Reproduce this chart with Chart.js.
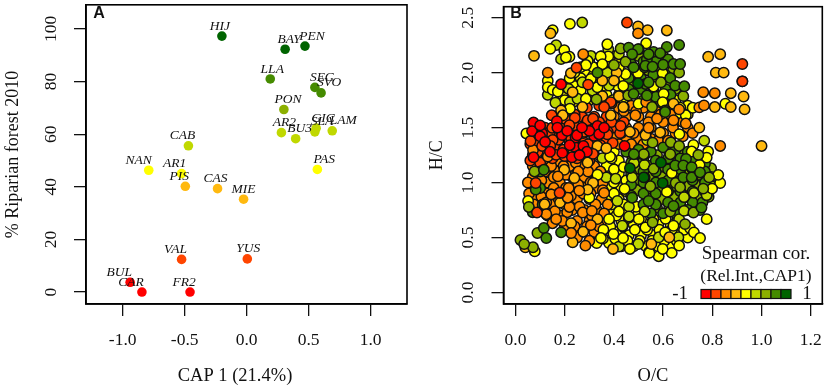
<!DOCTYPE html>
<html>
<head>
<meta charset="utf-8">
<script src="https://cdn.jsdelivr.net/npm/chart.js@4"></script>
<style>
html, body { margin: 0; padding: 0; background: #fff; }
#wrap { position: relative; width: 829px; height: 390px; overflow: hidden; }
canvas { position: absolute; top: 0; }
</style>
</head>
<body>
<div id="wrap">
<canvas id="chartA" width="415" height="390" style="left:0"></canvas>
<canvas id="chartB" width="414" height="390" style="left:415px"></canvas>
</div>
<script>
// colour ramp, low to high correlation
const rampColors = ['#ff0000', '#ff4500', '#ff8c00', '#ffb90f', '#ffff00', '#c0d800', '#8cb000', '#458b00', '#006400'];

// panel A
const sites = ['HIJ','BAY','PEN','LLA','SEC','SVO','PON','AR2','BU3','SLA','GIC','LAM','CAB','NAN','AR1','PIS','CAS','MIE','PAS','VAL','YUS','BUL','CAR','FR2'];
const cap1 = [-0.20,0.31,0.47,0.19,0.55,0.60,0.30,0.28,0.395,0.55,0.56,0.69,-0.47,-0.79,-0.525,-0.495,-0.235,-0.025,0.57,-0.525,0.005,-0.94,-0.845,-0.457];
const riparian = [97.3,92.3,93.5,81.0,77.8,75.7,69.4,60.6,58.3,60.9,62.3,61.3,55.6,46.3,45.0,40.2,39.3,35.3,46.6,12.4,12.6,3.7,0,0];
const siteClass = [8,8,8,7,7,7,6,5,5,5,5,5,5,4,4,3,3,3,4,1,1,0,0,0];
const siteLabelShift = [-2,4,7,2,7,8,4,3,4,7,7,11,-6,-10,-7,-6,-2,0,7,-6,1,-11,-11,-6];

// panel B, points partly hidden under the rest of the cloud
const underRedOrange = [[.08,1.45],[.12,1.5],[.17,1.52],[.22,1.55],[.27,1.6],[.32,1.6],[.37,1.6],[.06,1.35],[.1,1.4],[.15,1.42],[.2,1.45],[.25,1.48],[.3,1.5],[.35,1.5],[.4,1.5],[.07,1.25],[.12,1.3],[.17,1.33],[.22,1.37],[.27,1.4],[.32,1.4],[.37,1.4],[.29,1.68],[.34,1.7],[.39,1.72],
    [.1,1.48],[.14,1.46],[.19,1.5],[.24,1.52],[.29,1.55],[.34,1.55],[.39,1.55],[.44,1.55],[.08,1.38],[.125,1.36],[.175,1.39],[.225,1.41],[.275,1.45],[.325,1.45],[.375,1.46],[.425,1.45],[.09,1.28],[.145,1.27],[.195,1.3],[.245,1.32],[.295,1.35],[.345,1.34],[.395,1.36],[.06,1.2],[.1,1.18],[.15,1.22],[.2,1.24],[.25,1.22],[.3,1.2],[.24,1.62],[.2,1.58]];
const underOrange = [[.07,1.15],[.12,1.2],[.17,1.2],[.22,1.25],[.27,1.28],[.32,1.25],[.07,1.05],[.12,1.1],[.17,1.1],[.22,1.15],[.27,1.15],[.32,1.15],[.08,.95],[.13,1],[.18,1],[.23,1.05],[.28,1.05],[.33,1.05],[.08,.85],[.13,.9],[.18,.9],[.23,.95],[.28,.95],[.33,.95],[.1,.75],[.15,.8],[.2,.8],[.25,.85],[.3,.85],[.35,.85],[.13,.7],[.18,.7],[.23,.75],[.28,.75],[.33,.75],[.2,.6],[.25,.65],[.3,.65],[.35,.65],[.27,.55],[.32,.55],[.4,1.6],[.45,1.6],[.5,1.6],[.55,1.6],[.6,1.55],[.65,1.55],[.4,1.42],[.45,1.5],[.5,1.5],[.55,1.5],[.6,1.45],[.65,1.45],[.7,1.5],[.45,1.4],[.5,1.4],[.55,1.4],[.42,1.68],[.47,1.7],[.52,1.68],[.57,1.68],[.63,1.62],
    [.095,1.12],[.145,1.15],[.195,1.15],[.245,1.18],[.295,1.1],[.345,1.1],[.05,1],[.105,1.02],[.155,1.05],[.205,1.07],[.255,1.1],[.305,1],[.355,1],[.055,.9],[.105,.87],[.155,.95],[.205,.95],[.255,.98],[.305,.9],[.355,.93],[.075,.8],[.125,.82],[.175,.85],[.225,.88],[.275,.9],[.325,.8],[.375,.8],[.16,.74],[.21,.73],[.26,.78],[.31,.7],[.36,.72],[.15,.63],[.19,.65],[.24,.6],[.29,.6],[.34,.6],[.25,.5],[.3,.47],[.44,1.65],[.49,1.65],[.54,1.55],[.59,1.62],[.64,1.5],[.68,1.55],[.43,1.45],[.48,1.45],[.53,1.45],[.58,1.38],[.62,1.38],[.68,1.42],[.72,1.45],[.47,1.35],[.52,1.35],[.42,1.35]];
const underYellow = [[.33,.45],[.38,.45],[.43,.42],[.48,.42],[.53,.42],[.58,.42],[.63,.42],[.36,.55],[.41,.55],[.46,.52],[.51,.52],[.56,.52],[.61,.52],[.66,.52],[.38,.65],[.43,.65],[.48,.62],[.53,.62],[.58,.62],[.63,.62],[.68,.62],[.4,.75],[.45,.75],[.5,.72],[.37,.85],[.42,.85],[.38,.95],[.43,.95],[.37,1.05],[.42,1.08],[.37,1.15],[.42,1.2],[.22,1.7],[.27,1.78],[.32,1.8],[.37,1.8],[.42,1.8],[.19,1.8],[.24,1.88],[.29,1.9],[.34,1.95],[.39,1.95],[.44,1.95],[.24,2],[.29,2],[.34,2.05],[.39,2.08],[.44,2.1],[.3,2.1],[.35,2.15],[.4,2.15],[.6,1.75],[.65,1.75],[.7,1.7],[.7,1.62],
    [.355,.49],[.405,.49],[.455,.47],[.505,.47],[.555,.47],[.605,.47],[.655,.47],[.7,.5],[.385,.6],[.435,.6],[.485,.57],[.535,.57],[.585,.57],[.635,.57],[.685,.57],[.41,.7],[.46,.68],[.51,.67],[.56,.67],[.61,.67],[.66,.67],[.39,.8],[.44,.8],[.49,.78],[.4,.9],[.45,.92],[.4,1],[.45,1.02],[.4,1.12],[.44,1.14],[.4,1.28],[.39,1.22],[.2,1.75],[.24,1.74],[.295,1.74],[.345,1.76],[.395,1.75],[.44,1.76],[.21,1.86],[.265,1.84],[.315,1.86],[.365,1.88],[.415,1.88],[.22,1.95],[.265,1.95],[.315,1.97],[.365,2],[.415,2.02],[.265,2.05],[.315,2.05],[.37,2.1],[.42,2.1],[.62,1.7],[.67,1.68],[.72,1.68],[.66,1.62]];
const underOlive = [[.475,1.23],[.525,1.25],[.575,1.25],[.625,1.27],[.675,1.27],[.725,1.27],[.76,1.22],[.495,1.13],[.545,1.15],[.595,1.15],[.645,1.17],[.695,1.17],[.745,1.15],[.795,1.13],[.495,1.03],[.545,1.05],[.595,1.05],[.645,1.07],[.695,1.07],[.745,1.07],[.795,1.05],[.495,.93],[.545,.95],[.595,.95],[.645,.97],[.695,.97],[.745,.97],[.795,.97],[.545,.85],[.595,.85],[.645,.87],[.695,.87],[.745,.87],[.785,.87],[.575,.77],[.625,.77],[.675,.77],[.725,.78],[.48,1.9],[.53,1.9],[.58,1.92],[.63,1.9],[.49,2],[.54,2.02],[.59,2.05],[.64,2.02],[.5,2.15],[.55,2.15],[.6,2.15],[.55,1.72],[.59,1.73],[.65,1.85]];
const underGreen = [[.45,1.28],[.5,1.3],[.55,1.28],[.6,1.32],[.65,1.3],[.7,1.28],[.47,1.18],[.52,1.2],[.57,1.2],[.62,1.22],[.67,1.22],[.72,1.2],[.77,1.17],[.47,1.08],[.52,1.1],[.57,1.1],[.62,1.12],[.67,1.12],[.72,1.12],[.77,1.1],[.47,.98],[.52,1],[.57,1],[.62,1.02],[.67,1.02],[.72,1.02],[.77,1],[.47,.88],[.52,.9],[.57,.9],[.62,.92],[.67,.92],[.72,.92],[.77,.92],[.52,.8],[.57,.8],[.62,.82],[.67,.82],[.72,.82],[.76,.82],[.55,.72],[.6,.72],[.65,.72],[.7,.75],[.75,.75],[.46,1.85],[.51,1.85],[.56,1.85],[.61,1.85],[.46,1.95],[.51,1.95],[.56,1.98],[.61,1.98],[.47,2.08],[.52,2.1],[.57,2.12],[.62,2.12],[.52,1.75],[.57,1.78],[.63,1.8],[.11,.8],[.1,.95],[.1,1.1],[.07,.73]];

// panel B, points that can be read on top of the cloud
const topLime = [[.271,2.456],[.165,2.25],[.185,2.123],[.306,2.153],[.272,1.912],[.131,1.798],[.162,1.726],[.216,1.852],[.313,1.837],[.221,1.732],[.252,1.762],[.373,2],[.377,2.213],[.42,2.168],[.38,1.882],[.767,1.381],[.535,1.387],[.524,1.161],[.725,.906],[.777,.885],[.685,.867],[.353,1.222],[.481,1.176],[.474,1.047],[.369,1.047],[.407,1.035],[.434,.607],[.42,.417],[.499,.441],[.414,.832],[.461,.781],[.461,.691],[.525,.736],[.582,.502],[.662,.502],[.665,.667],[.685,.742],[.777,.886]];
const topYellow = [[.221,2.444],[.151,2.387],[.141,2.216],[.198,2.204],[.219,2.144],[.205,2.138],[.293,2.108],[.286,2.069],[.239,2],[.131,1.927],[.131,1.867],[.151,1.843],[.172,1.828],[.221,1.672],[.306,1.942],[.333,1.867],[.286,1.762],[.373,2.258],[.377,2.147],[.346,2.147],[.353,2.077],[.438,1.879],[.498,1.996],[.447,1.987],[.42,2.048],[.5,1.717],[.531,2.267],[.598,1.996],[.561,1.873],[.602,1.807],[.598,1.732],[.853,1.717],[.044,1.447],[.384,1.236],[.333,1.071],[.443,.942],[.692,1.612],[.666,1.441],[.723,1.342],[.716,1.282],[.783,1.282],[.777,1.227],[.748,1.161],[.635,1.086],[.832,.996],[.799,.945],[.824,1.07],[.615,.915],[.078,.375],[.051,.832],[.38,.667],[.42,.736],[.501,.667],[.357,.571],[.398,.532],[.347,.495],[.437,.495],[.465,.396],[.528,.592],[.542,.366],[.3,.862],[.777,.667],[.709,.586],[.725,.547],[.75,.495],[.635,.36],[.582,.33],[.544,.36],[.598,.396],[.665,.426],[.642,.607],[.608,.547]];
const topAmber = [[.498,2.42],[.142,2.357],[.075,2.153],[.225,1.996],[.232,1.822],[.185,1.657],[.272,1.687],[.353,1.786],[.411,2],[.353,1.927],[.4,1.927],[.42,1.786],[.44,1.687],[.537,2.387],[.615,2.384],[.642,1.717],[.783,2.144],[.832,2.168],[.814,2],[.846,2],[.875,1.813],[.927,1.783],[.81,1.687],[.875,1.687],[.931,1.666],[.192,1.612],[.333,1.333],[.369,1.312],[.387,1.612],[.438,1.687],[.465,1.462],[.528,1.432],[.293,1.182],[.198,1.116],[.315,.996],[.293,.936],[.239,1.041],[.145,.891],[.588,1.456],[.747,1.5],[1,1.333],[.04,.411],[.118,.802],[.181,.817],[.226,.631],[.275,.553],[.232,.456],[.333,.667],[.396,.396],[.552,.441],[.625,.502]];
const topOrange = [[.498,2.357],[.275,2.168],[.131,2],[.531,1.732],[.665,1.666],[.763,1.822],[.81,1.813],[.747,1.684],[.766,1.702],[.922,1.921],[.832,1.333],[.071,1.296],[.131,1.237],[.487,1.612],[.259,.927],[.36,.906],[.216,.951],[.172,1.056],[.692,1.537],[.642,1.567],[.575,1.582],[.541,1.498],[.125,.712],[.165,.667],[.145,.892],[.219,.778],[.212,.862],[.226,.541],[.284,.426],[.306,.613],[.273,.727],[.31,.742]];
const topOlive = [[.427,2.219],[.447,2.099],[.4,2.069],[.458,1.792],[.329,1.756],[.501,2.213],[.591,1.912],[.665,2],[.682,1.786],[.555,1.687],[.521,1.252],[.077,1.101],[.557,1.363],[.631,1.366],[.665,1.333],[.521,1.258],[.629,1.258],[.743,1.252],[.561,1.125],[.651,.996],[.787,1.047],[.548,.966],[.763,.945],[.669,.957],[.02,.478],[.071,.411],[.035,.44],[.054,.778],[.089,.541],[.557,.637],[.629,.736],[.723,.727],[.689,.622]];
const topGreen = [[.46,2.228],[.498,2.213],[.474,2.168],[.333,2],[.48,2.048],[.525,2.048],[.48,1.807],[.528,1.897],[.534,1.792],[.534,2.123],[.615,2.234],[.665,2.252],[.561,2.189],[.588,2.177],[.541,2.168],[.528,2.063],[.557,2.054],[.6,2.072],[.642,2.078],[.669,2.078],[.629,1.951],[.541,1.912],[.649,1.882],[.686,1.876],[.608,1.657],[.608,1.642],[.481,1.258],[.115,1.116],[.082,.936],[.525,1.047],[.693,1.215],[.649,1.155],[.682,1.155],[.716,1.14],[.682,1.047],[.716,1.047],[.75,1.092],[.115,.586],[.125,.495],[.185,.547],[.474,.862],[.541,.832],[.642,.787],[.756,.772]];
const topDarkGreen = [[.498,1.903],[.465,1.131],[.591,1.182],[.521,1.047],[.598,.996]];
const topRedOrange = [[.453,2.456],[.248,2.045],[.295,1.891],[.387,1.732],[.36,1.687],[.922,2.078],[.922,1.921],[.147,1.612],[.149,1.498],[.151,1.387],[.108,1.333],[.141,1.333],[.241,1.588],[.293,1.567],[.315,1.582],[.219,1.522],[.279,1.462],[.373,1.438],[.427,1.516],[.315,1.261],[.061,1.378],[.165,1.252],[.082,.996],[.181,.906],[.087,.727],[.179,.907]];
const topRed = [[.185,1.894],[.073,1.546],[.067,1.468],[.108,1.447],[.168,1.558],[.189,1.432],[.073,1.23],[.229,1.23],[.239,1.327],[.276,1.333],[.443,1.333],[.333,1.516],[.319,1.426],[.244,1.41],[.1,1.52],[.17,1.5],[.21,1.47],[.25,1.43],[.3,1.47],[.34,1.44],[.27,1.5],[.22,1.34],[.19,1.27],[.1,1.42],[.12,1.37],[.29,1.28],[.36,1.5],[.14,1.28],[.26,1.25]];

const underSets = [[underYellow, 4], [underOrange, 2], [underRedOrange, 1], [underOlive, 6], [underGreen, 7]];
const topSets = [[topLime, 5], [topYellow, 4], [topAmber, 3], [topOrange, 2], [topOlive, 6], [topGreen, 7], [topDarkGreen, 8], [topRedOrange, 1], [topRed, 0]];

const serif = '"Liberation Serif", "Times New Roman", serif';
const textColor = '#111';

// titles and small notes that the charts do not place by themselves
function textPlugin(draw) {
    return { id: 'notes', afterDatasetsDraw(chart) { draw(chart, chart.ctx); } };
}

function put(ctx, text, x, y, font, align) {
    ctx.font = font;
    ctx.fillStyle = textColor;
    ctx.textAlign = align || 'center';
    ctx.textBaseline = 'middle';
    ctx.fillText(text, x, y);
}

function noPadding(s) {
    s.paddingTop = s.paddingBottom = s.paddingLeft = s.paddingRight = 0;
}

// R style open frame with long outward ticks
function scales(xr, yr, xStep, yStep, yDigits, leftW, yTitle, tickPad, titlePad) {
    return {
        x: {
            type: 'linear', min: xr[0], max: xr[1],
            afterFit(s) { s.height = 86; noPadding(s); },
            border: { color: '#000', width: 1.6 },
            grid: { drawOnChartArea: false, drawTicks: true, tickLength: 12, color: '#111', lineWidth: 1.3 },
            ticks: { stepSize: xStep, includeBounds: false, autoSkip: false, maxRotation: 0, padding: 14, color: textColor, font: { family: serif, size: 17.5 },
                callback: v => v.toFixed(1) }
        },
        y: {
            type: 'linear', min: yr[0], max: yr[1],
            afterFit(s) { s.width = leftW; noPadding(s); },
            border: { color: '#000', width: 1.6 },
            grid: { drawOnChartArea: false, drawTicks: true, tickLength: 12, color: '#111', lineWidth: 1.3 },
            ticks: { stepSize: yStep, includeBounds: false, autoSkip: false, minRotation: 90, maxRotation: 90, crossAlign: 'center', padding: tickPad, color: textColor, font: { family: serif, size: 17.5 },
                callback: v => v.toFixed(yDigits) },
            title: { display: true, text: yTitle, color: textColor, font: { family: serif, size: 18 }, padding: { top: titlePad, bottom: 0 } }
        }
    };
}

function frame(chart, ctx) {
    const a = chart.chartArea;
    ctx.strokeStyle = '#000';
    ctx.lineWidth = 1.6;
    ctx.strokeRect(a.left, a.top, a.right - a.left, a.bottom - a.top);
}

new Chart(document.getElementById('chartA'), {
    type: 'scatter',
    data: {
        datasets: [{
            data: cap1.map((v, i) => ({ x: v, y: riparian[i] })),
            pointBackgroundColor: siteClass.map(c => rampColors[c]),
            pointBorderWidth: 0,
            pointRadius: 4.8,
            pointHoverRadius: 4.8
        }]
    },
    options: {
        responsive: false, animation: false,
        layout: { padding: { top: 4, right: 8, left: 0, bottom: 0 } },
        plugins: { legend: { display: false }, tooltip: { enabled: false } },
        scales: scales([-1.296, 1.293], [-4.55, 109.2], 0.5, 20, 0, 86, '% Riparian forest 2010', 9, 2)
    },
    plugins: [textPlugin((chart, ctx) => {
        frame(chart, ctx);
        const xs = chart.scales.x, ys = chart.scales.y;
        sites.forEach((name, i) => {
            put(ctx, name, xs.getPixelForValue(cap1[i]) + siteLabelShift[i], ys.getPixelForValue(riparian[i]) - 10, 'italic 13.5px ' + serif);
        });
        put(ctx, 'A', 99, 14, 'bold 16px "Liberation Sans", Arial, sans-serif');
        put(ctx, 'CAP 1 (21.4%)', 235, 376, '18.5px ' + serif);
    })]
});

const datasetsB = [];
underSets.concat(topSets).forEach(([points, cls]) => {
    datasetsB.push({
        data: points,
        order: -datasetsB.length,
        pointBackgroundColor: rampColors[cls],
        pointBorderColor: '#111',
        pointBorderWidth: 1.5,
        pointRadius: 5.2,
        pointHoverRadius: 5.2
    });
});

new Chart(document.getElementById('chartB'), {
    type: 'scatter',
    data: { datasets: datasetsB },
    options: {
        responsive: false, animation: false,
        layout: { padding: { top: 4, right: 4, left: 0, bottom: 0 } },
        plugins: { legend: { display: false }, tooltip: { enabled: false } },
        scales: scales([-0.049, 1.247], [-0.105, 2.6], 0.2, 0.5, 1, 88.5, 'H/C', 12.5, 11)
    },
    plugins: [textPlugin((chart, ctx) => {
        frame(chart, ctx);
        put(ctx, 'B', 101, 14, 'bold 16px "Liberation Sans", Arial, sans-serif');
        put(ctx, 'O/C', 238, 376, '18.5px ' + serif);
        put(ctx, 'Spearman cor.', 341, 254, '19px ' + serif);
        put(ctx, '(Rel.Int.,CAP1)', 341, 276, '17.5px ' + serif);
        put(ctx, '-1', 273, 294, '19px ' + serif, 'right');
        put(ctx, '1', 392, 294, '19px ' + serif);
        rampColors.forEach((c, i) => {
            ctx.fillStyle = c;
            ctx.strokeStyle = '#111';
            ctx.lineWidth = 1.2;
            ctx.fillRect(286 + i * 10, 289.5, 10, 9);
            ctx.strokeRect(286 + i * 10, 289.5, 10, 9);
        });
    })]
});
</script>
</body>
</html>
